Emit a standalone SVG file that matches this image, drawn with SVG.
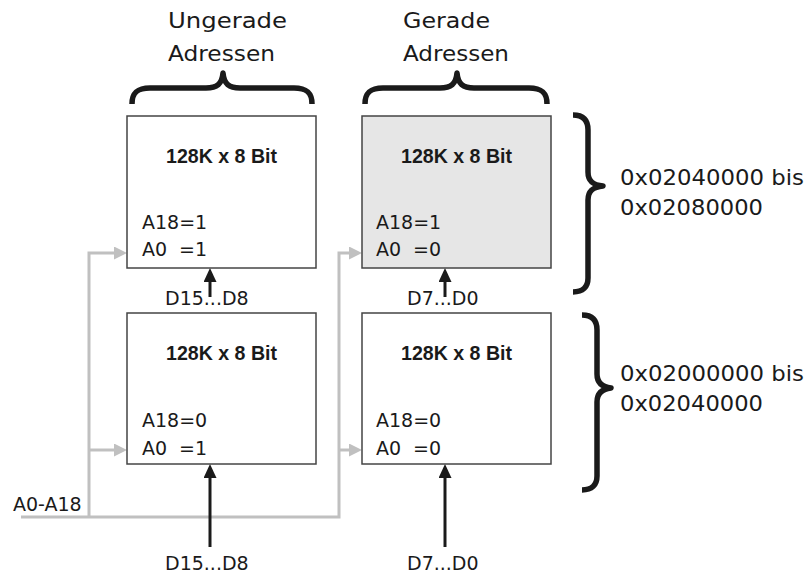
<svg xmlns="http://www.w3.org/2000/svg" width="808" height="576" viewBox="0 0 808 576">
  <style>
    .box { stroke: #444; stroke-width: 1.5; fill: #fff; }
    .box.hi { fill: #e6e6e6; }
    .title { font-family: "Liberation Sans", Arial, sans-serif; font-weight: bold; font-size: 21px; fill: #1a1a1a; text-anchor: middle; }
    .lbl { font-family: "DejaVu Sans", "Liberation Sans", sans-serif; font-size: 19px; fill: #1a1a1a; }
    .big { font-family: "DejaVu Sans", "Liberation Sans", sans-serif; font-size: 22px; fill: #1a1a1a; }
    .bus { stroke: #c0c0c0; stroke-width: 3; fill: none; }
    .data { stroke: #1a1a1a; stroke-width: 3; fill: none; }
    .brace { stroke: #1a1a1a; stroke-width: 5.5; fill: none; stroke-linejoin: round; }
  </style>
  <defs>
    <marker id="grayHead" markerUnits="userSpaceOnUse" markerWidth="13" markerHeight="13" refX="6" refY="6.5" orient="auto">
      <path d="M0,0 L13,6.5 L0,13 z" fill="#c0c0c0"/>
    </marker>
    <marker id="blackHead" markerUnits="userSpaceOnUse" markerWidth="14" markerHeight="13" refX="7" refY="6.5" orient="auto">
      <path d="M0,0 L14,6.5 L0,13 z" fill="#1a1a1a"/>
    </marker>
  </defs>

  <rect width="808" height="576" fill="#fff"/>

  <!-- column headings and braces -->
  <g id="head-odd">
    <text class="big" x="168" y="28" textLength="119" lengthAdjust="spacingAndGlyphs">Ungerade</text>
    <text class="big" x="168" y="61" textLength="107" lengthAdjust="spacingAndGlyphs">Adressen</text>
    <path class="brace" d="M132,104 C132,92 138,88 150,88 L206,88 C217,88 222,84 223,73 C224,84 229,88 240,88 L294,88 C306,88 312,92 312,104"/>
  </g>
  <g id="head-even">
    <text class="big" x="403" y="28" textLength="87" lengthAdjust="spacingAndGlyphs">Gerade</text>
    <text class="big" x="403" y="61" textLength="106" lengthAdjust="spacingAndGlyphs">Adressen</text>
    <path class="brace" d="M365,104 C365,92 371,88 383,88 L440,88 C451,88 456,84 457,73 C458,84 463,88 474,88 L529,88 C541,88 547,92 547,104"/>
  </g>

  <!-- address range braces -->
  <g id="range-high">
    <path class="brace" d="M573,115 C583,115 588,120 588,130 L588,172 C588,181 593,185 603,186 C593,187 588,191 588,200 L588,278 C588,287 583,292 573,292"/>
    <text class="big" x="620" y="185" textLength="184" lengthAdjust="spacingAndGlyphs">0x02040000 bis</text>
    <text class="big" x="620" y="215" textLength="143" lengthAdjust="spacingAndGlyphs">0x02080000</text>
  </g>
  <g id="range-low">
    <path class="brace" d="M582,315 C592,315 597,320 597,330 L597,374 C597,383 602,387 611,388 C602,389 597,393 597,402 L597,476 C597,485 592,490 582,490"/>
    <text class="big" x="620" y="381" textLength="184" lengthAdjust="spacingAndGlyphs">0x02000000 bis</text>
    <text class="big" x="620" y="411" textLength="143" lengthAdjust="spacingAndGlyphs">0x02040000</text>
  </g>

  <!-- connectors: address bus (gray) and data lines (black) -->
  <g id="connectors">
    <path class="bus" d="M21,517 H339 V253 H355" marker-end="url(#grayHead)"/>
    <path class="bus" d="M89,517 V253 H120" marker-end="url(#grayHead)"/>
    <path class="bus" d="M89,450 H120" marker-end="url(#grayHead)"/>
    <path class="bus" d="M339,450 H355" marker-end="url(#grayHead)"/>
    <path class="data" d="M210,297 V275" marker-end="url(#blackHead)"/>
    <path class="data" d="M445,297 V275" marker-end="url(#blackHead)"/>
    <path class="data" d="M210,547 V471" marker-end="url(#blackHead)"/>
    <path class="data" d="M445,547 V471" marker-end="url(#blackHead)"/>
  </g>

  <!-- memory chips -->
  <g id="chip-odd-high">
    <rect class="box" x="127" y="116" width="189" height="152"/>
    <text class="title" x="221.5" y="163" textLength="111" lengthAdjust="spacingAndGlyphs">128K x 8 Bit</text>
    <text class="lbl" x="142" y="229">A18=1</text>
    <text class="lbl" x="142" y="256">A0 <tspan x="179">=1</tspan></text>
  </g>
  <g id="chip-even-high">
    <rect class="box hi" x="362" y="116" width="189" height="152"/>
    <text class="title" x="456.5" y="163" textLength="111" lengthAdjust="spacingAndGlyphs">128K x 8 Bit</text>
    <text class="lbl" x="376" y="229">A18=1</text>
    <text class="lbl" x="376" y="256">A0 <tspan x="413">=0</tspan></text>
  </g>
  <g id="chip-odd-low">
    <rect class="box" x="127" y="313" width="189" height="151"/>
    <text class="title" x="221.5" y="360" textLength="111" lengthAdjust="spacingAndGlyphs">128K x 8 Bit</text>
    <text class="lbl" x="142" y="427">A18=0</text>
    <text class="lbl" x="142" y="455">A0 <tspan x="179">=1</tspan></text>
  </g>
  <g id="chip-even-low">
    <rect class="box" x="362" y="313" width="189" height="151"/>
    <text class="title" x="456.5" y="360" textLength="111" lengthAdjust="spacingAndGlyphs">128K x 8 Bit</text>
    <text class="lbl" x="376" y="427">A18=0</text>
    <text class="lbl" x="376" y="455">A0 <tspan x="413">=0</tspan></text>
  </g>

  <!-- bus and data labels -->
  <g id="labels">
    <text class="lbl" x="13" y="511">A0-A18</text>
    <text class="lbl" x="165" y="305">D15...D8</text>
    <text class="lbl" x="407" y="305">D7...D0</text>
    <text class="lbl" x="165" y="570">D15...D8</text>
    <text class="lbl" x="407" y="570">D7...D0</text>
  </g>
</svg>
